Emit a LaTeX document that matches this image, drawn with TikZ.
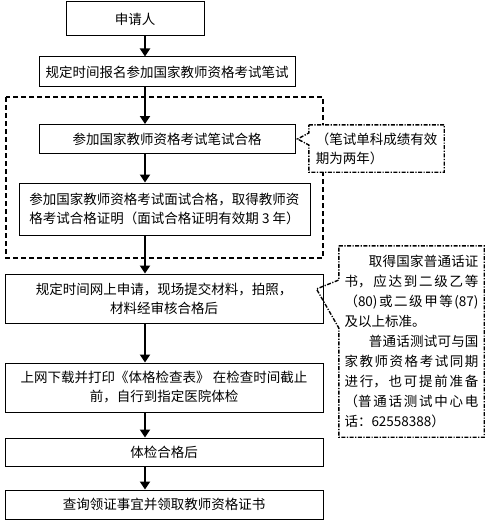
\documentclass[tikz,border=0pt]{standalone}
\usepackage{fontspec}
\setmainfont{Noto Sans CJK SC}
\XeTeXlinebreaklocale "zh"
\XeTeXlinebreakskip = 0pt plus 1pt
\usetikzlibrary{positioning, arrows.meta}

\begin{document}
\begin{tikzpicture}[x=1pt, y=-1pt,
every node/.style = {font=\fontsize{13.5}{19}\selectfont},
        box/.style = {rectangle, draw, line width=1pt, inner sep=0pt, align=center},
      frame/.style = {draw, line width=1.8pt, dash pattern=on 5pt off 3pt},
       note/.style = {draw, line width=1.4pt, line join=miter,
                      dash pattern=on 4pt off 1.5pt on 1.2pt off 1.5pt},
        arr/.style = {line width=2.2pt, -{Triangle[width=10pt,length=8pt]}}
                        ]
\useasboundingbox (0,0) rectangle (493,524);
\coordinate (axis) at (145,0);
\node (app)     [box, minimum width=138, minimum height=34] at (135,19) {申请人};
\node (reg)     [box, minimum width=256, minimum height=30] at (167,72) {规定时间报名参加国家教师资格考试笔试};
\node (wpass)   [box, minimum width=256, minimum height=29] at (167,139) {参加国家教师资格考试笔试合格};
\node (ipass)   [box, align=left, minimum width=291, minimum height=52] at (164.5,209)
      {参加国家教师资格考试面试合格，取得教师资\\格考试合格证明（面试合格证明有效期 3 年）};
\node (online)  [box, minimum width=318, minimum height=49] at (164,298.5)
      {规定时间网上申请，现场提交材料，拍照，\\材料经审核合格后};
\node (download)[box, minimum width=318, minimum height=49] at (164,387.5)
      {上网下载并打印《体格检查表》 在检查时间截止\\前，自行到指定医院体检};
\node (exam)    [box, minimum width=318, minimum height=28] at (164,452) {体检合格后};
\node (cert)    [box, minimum width=318, minimum height=29] at (164,504.5) {查询领证事宜并领取教师资格证书};
% dashed frame round the two exam steps
\draw[frame] (6,97) rectangle (323,258);
% notes
\node (wnote) [fill=white, align=left, inner sep=0pt, minimum width=135, minimum height=47] at (376.5,148.5)
      {（笔试单科成绩有效\\期为两年）};
\node (pnote) [fill=white, text width=134pt, inner sep=0pt, align=justify, font=\fontsize{13.5}{20}\selectfont,
      minimum width=145, minimum height=191] at (411.5,341.5)
      {\hspace*{1.8em}取得国家普通话证\linebreak 书，应达到二级乙等\linebreak
       （80)或二级甲等(87)\linebreak 及以上标准。\\
       \hspace*{1.8em}普通话测试可与国\linebreak 家教师资格考试同期\linebreak
       进行，也可提前准备\linebreak （普通话测试中心电\linebreak 话：62558388）};
\coordinate (wtip) at ([xshift=2pt]wpass.east);
\coordinate (ptip) at ([xshift=-7pt,yshift=9.5pt]online.east);
\draw[note] (wnote.north west) -- (wnote.north east) -- (wnote.south east) -- (wnote.south west)
      -- (wnote.west |- 0,145) -- (wtip) -- (wnote.west |- 0,133) -- cycle;
\draw[note] (pnote.north west) -- (pnote.north east) -- (pnote.south east) -- (pnote.south west)
      -- (pnote.west |- 0,328) -- (ptip) -- (pnote.west |- 0,280) -- cycle;
% arrows
\draw[arr] (app.south -| axis) -- (reg.north -| axis);
\draw[arr] (reg.south -| axis) -- (wpass.north -| axis);
\draw[arr] (wpass.south -| axis) -- (ipass.north -| axis);
\draw[arr] (ipass.south -| axis) -- (online.north -| axis);
\draw[arr] (online.south -| axis) -- (download.north -| axis);
\draw[arr] (download.south -| axis) -- (exam.north -| axis);
\draw[arr] (exam.south -| axis) -- (cert.north -| axis);
\end{tikzpicture}
\end{document}
